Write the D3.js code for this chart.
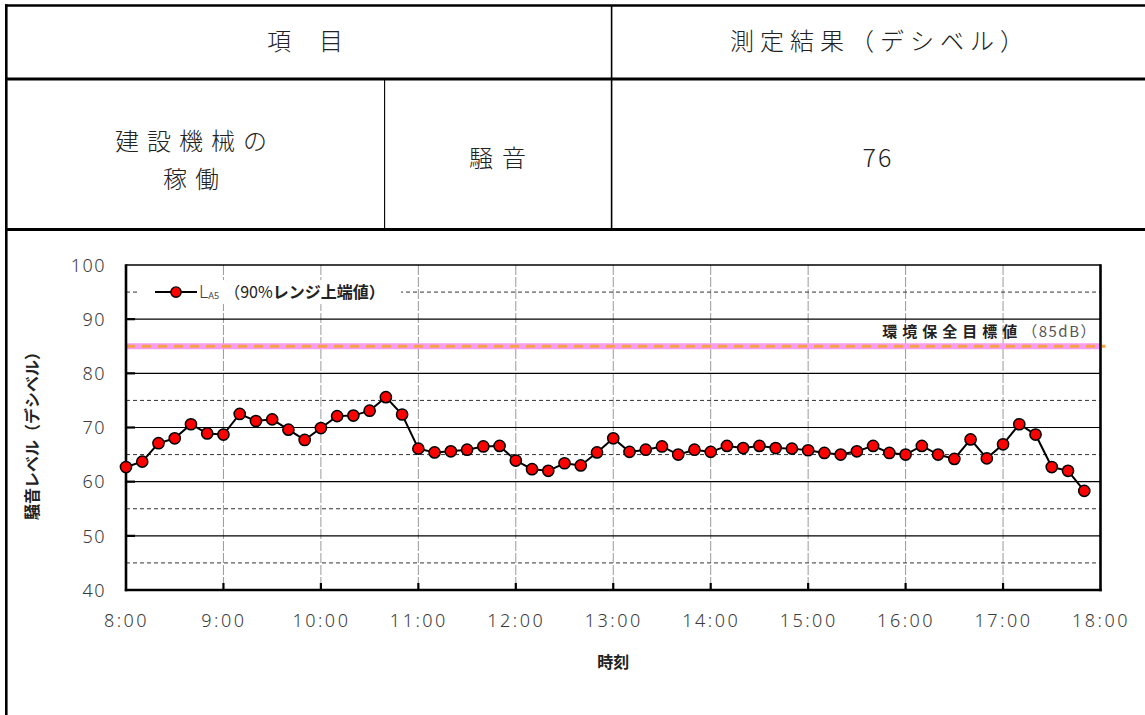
<!DOCTYPE html>
<html><head><meta charset="utf-8">
<script src="https://cdn.jsdelivr.net/npm/d3@7"></script>
<style>
html,body{margin:0;padding:0;background:#fff;}
svg{display:block;}
</style></head>
<body>
<svg id="c" width="1145" height="715"></svg>
<script>
// ---- data ----
const tableHeaders = ["項　目", "測定結果（デシベル）"];
const tableItem = ["建設機械の", "稼働"];
const tableKind = "騒音";
const tableResult = "76";

const times = ["8:00","8:10","8:20","8:30","8:40","8:50",
 "9:00","9:10","9:20","9:30","9:40","9:50",
 "10:00","10:10","10:20","10:30","10:40","10:50",
 "11:00","11:10","11:20","11:30","11:40","11:50",
 "12:00","12:10","12:20","12:30","12:40","12:50",
 "13:00","13:10","13:20","13:30","13:40","13:50",
 "14:00","14:10","14:20","14:30","14:40","14:50",
 "15:00","15:10","15:20","15:30","15:40","15:50",
 "16:00","16:10","16:20","16:30","16:40","16:50",
 "17:00","17:10","17:20","17:30","17:40","17:50"];
const la5 = [62.7,63.7,67.1,68.0,70.6,68.9,
 68.7,72.5,71.2,71.5,69.6,67.7,
 69.9,72.1,72.2,73.1,75.6,72.4,
 66.1,65.4,65.6,65.9,66.5,66.6,
 63.9,62.3,62.0,63.4,63.0,65.4,
 68.0,65.5,65.9,66.5,65.0,65.9,
 65.5,66.6,66.2,66.6,66.2,66.1,
 65.8,65.3,65.0,65.6,66.6,65.3,
 65.0,66.6,65.0,64.2,67.8,64.3,
 66.9,70.6,68.7,62.7,62.0,58.3];
const xTickLabels = ["8:00","9:00","10:00","11:00","12:00","13:00","14:00","15:00","16:00","17:00","18:00"];
const yTicks = [40,50,60,70,80,90,100];
const yMinorLines = [45,55,65,75,95];
const standardValue = 85;
const standardLabel = "環境保全目標値";
const standardUnit = "（85dB）";
const seriesName = "L";
const seriesSub = "A5";
const seriesNote1 = "（90%";
const seriesNote2 = "レンジ上端値）";
const yLabel = "騒音レベル（デシベル）";
const xLabel = "時刻";

// ---- helpers ----
const toMin = t => { const [h,m] = t.split(":").map(Number); return h*60+m; };
const svg = d3.select("#c");
const JP = "'Noto Sans CJK JP','Noto Sans',sans-serif";
const NUM = "'Noto Sans','Noto Sans CJK JP',sans-serif";

// ---- table ----
const T = svg.append("g");
const line = (x1,y1,x2,y2,w) => T.append("line").attr("x1",x1).attr("y1",y1).attr("x2",x2).attr("y2",y2).attr("stroke","#000").attr("stroke-width",w);
line(5,5.5,1150,5.5,2.6);
line(6.3,4.3,6.3,715,2.6);
line(5,79,1150,79,3.2);
line(5,229.5,1150,229.5,3.2);
line(611.6,5,611.6,229.5,1.6);
line(384.6,79,384.6,229.5,1.1);

const tText = (x,y,s,size,ls) => T.append("text").attr("x",x).attr("y",y).attr("text-anchor","middle")
  .attr("font-family",JP).attr("font-size",size).attr("font-weight",300).attr("letter-spacing",ls).attr("fill","#222").text(s);
tText(306,50,tableHeaders[0],24,2);
tText(880,50,tableHeaders[1],24,6);
tText(195,150,tableItem[0],24,8);
tText(195,188,tableItem[1],24,8);
tText(502,167,tableKind,24,9);
tText(878,167,tableResult,25,2);

// ---- chart ----
const L=126, R=1100.5, TOP=265, B=590;
const x = d3.scaleLinear().domain([toMin(xTickLabels[0]), toMin(xTickLabels[xTickLabels.length-1])]).range([L,R]);
const y = d3.scaleLinear().domain([40,100]).range([B,TOP]);
const G = svg.append("g");

// vertical grid
G.selectAll(".vg").data(xTickLabels.slice(1,-1)).join("line")
  .attr("x1",d=>x(toMin(d))).attr("x2",d=>x(toMin(d))).attr("y1",TOP).attr("y2",B)
  .attr("stroke","#999").attr("stroke-width",1).attr("stroke-dasharray","10,2");
// major horizontal
G.selectAll(".hg").data(yTicks.slice(1,-1)).join("line")
  .attr("x1",L).attr("x2",R).attr("y1",d=>y(d)).attr("y2",d=>y(d))
  .attr("stroke","#000").attr("stroke-width",1.2);
// minor dashed
G.selectAll(".mg").data(yMinorLines).join("line")
  .attr("x1",L).attr("x2",R).attr("y1",d=>y(d)).attr("y2",d=>y(d))
  .attr("stroke","#333").attr("stroke-width",1).attr("stroke-dasharray","4,3");

// standard line
G.append("line").attr("x1",L).attr("x2",R+1).attr("y1",y(standardValue)).attr("y2",y(standardValue))
  .attr("stroke","#f99cf3").attr("stroke-width",6);
G.append("line").attr("x1",L).attr("x2",R+5).attr("y1",y(standardValue)).attr("y2",y(standardValue))
  .attr("stroke","#f7a04a").attr("stroke-width",3).attr("stroke-dasharray","9,7");
const st = G.append("text").attr("x",1097).attr("y",y(standardValue)-9).attr("text-anchor","end")
  .attr("font-family",JP).attr("font-size",15);
st.append("tspan").attr("font-weight",700).attr("letter-spacing",5).attr("fill","#222").text(standardLabel);
st.append("tspan").attr("fill","#555").attr("letter-spacing",1.5).text(standardUnit);

// axes via d3
const yAxis = d3.axisLeft(y).tickValues(yTicks).tickSize(0).tickPadding(20);
const ya = G.append("g").attr("transform",`translate(${L},0)`).call(yAxis);
ya.select(".domain").remove();
ya.selectAll("text").attr("font-family",NUM).attr("font-size",18).attr("font-weight",300).attr("fill","#3a3a3a").attr("letter-spacing",1.5).attr("dy","0.35em");

const xAxis = d3.axisBottom(x).tickValues(xTickLabels.map(toMin)).tickFormat((d,i)=>xTickLabels[i]).tickSize(0).tickPadding(24);
const xa = G.append("g").attr("transform",`translate(0,${B})`).call(xAxis);
xa.select(".domain").remove();
xa.selectAll("text").attr("font-family",NUM).attr("font-size",18).attr("font-weight",300).attr("fill","#3a3a3a").attr("letter-spacing",2.5);

// inner tick marks
G.selectAll(".yt").data(yTicks.slice(1,-1)).join("line")
  .attr("x1",L).attr("x2",L+9).attr("y1",d=>y(d)).attr("y2",d=>y(d)).attr("stroke","#000").attr("stroke-width",2.2);
G.selectAll(".xt").data(xTickLabels.slice(1,-1)).join("line")
  .attr("x1",d=>x(toMin(d))).attr("x2",d=>x(toMin(d))).attr("y1",B).attr("y2",B-7).attr("stroke","#000").attr("stroke-width",2.2);

// frame
G.append("line").attr("x1",L).attr("x2",R).attr("y1",TOP).attr("y2",TOP).attr("stroke","#000").attr("stroke-width",1.6);
G.append("line").attr("x1",L).attr("x2",L).attr("y1",TOP-0.8).attr("y2",B+1.2).attr("stroke","#000").attr("stroke-width",2.6);
G.append("line").attr("x1",L-1.2).attr("x2",R+1.2).attr("y1",B).attr("y2",B).attr("stroke","#000").attr("stroke-width",2.6);
G.append("line").attr("x1",R).attr("x2",R).attr("y1",TOP-0.8).attr("y2",B+1.2).attr("stroke","#000").attr("stroke-width",2.6);

// legend
const legY = y(95);
G.append("rect").attr("x",140).attr("y",legY-12).attr("width",261).attr("height",24).attr("fill","#fff");
G.append("line").attr("x1",155).attr("x2",197).attr("y1",legY).attr("y2",legY).attr("stroke","#000").attr("stroke-width",2);
G.append("circle").attr("cx",176).attr("cy",legY).attr("r",5.2).attr("fill","#f00").attr("stroke","#000").attr("stroke-width",1.4);
const lt = G.append("text").attr("x",199).attr("y",legY+6).attr("font-family",JP).attr("font-size",16).attr("fill","#222");
lt.append("tspan").attr("font-family",NUM).attr("font-size",18).attr("font-weight",300).attr("fill","#444").text(seriesName);
lt.append("tspan").attr("font-family",NUM).attr("font-size",9).attr("fill","#444").attr("dy",1).text(seriesSub);
lt.append("tspan").attr("dy",-1).attr("dx",5).attr("font-weight",400).text(seriesNote1);
lt.append("tspan").attr("font-weight",700).text(seriesNote2);

// series
const pts = times.map((t,i)=>({t:toMin(t), v:la5[i]}));
G.append("path").datum(pts).attr("fill","none").attr("stroke","#000").attr("stroke-width",2)
  .attr("d", d3.line().x(d=>x(d.t)).y(d=>y(d.v)));
G.selectAll(".pt").data(pts).join("circle")
  .attr("cx",d=>x(d.t)).attr("cy",d=>y(d.v)).attr("r",5.6)
  .attr("fill","#f00").attr("stroke","#000").attr("stroke-width",1.5);

// axis titles
G.append("text").attr("transform",`translate(38,432) rotate(-90)`).attr("text-anchor","middle")
  .attr("font-family",JP).attr("font-size",16).attr("font-weight",700).attr("fill","#222").text(yLabel);
G.append("text").attr("x",(L+R)/2).attr("y",668).attr("text-anchor","middle")
  .attr("font-family",JP).attr("font-size",16).attr("font-weight",700).attr("fill","#222").text(xLabel);
</script>
</body></html>
